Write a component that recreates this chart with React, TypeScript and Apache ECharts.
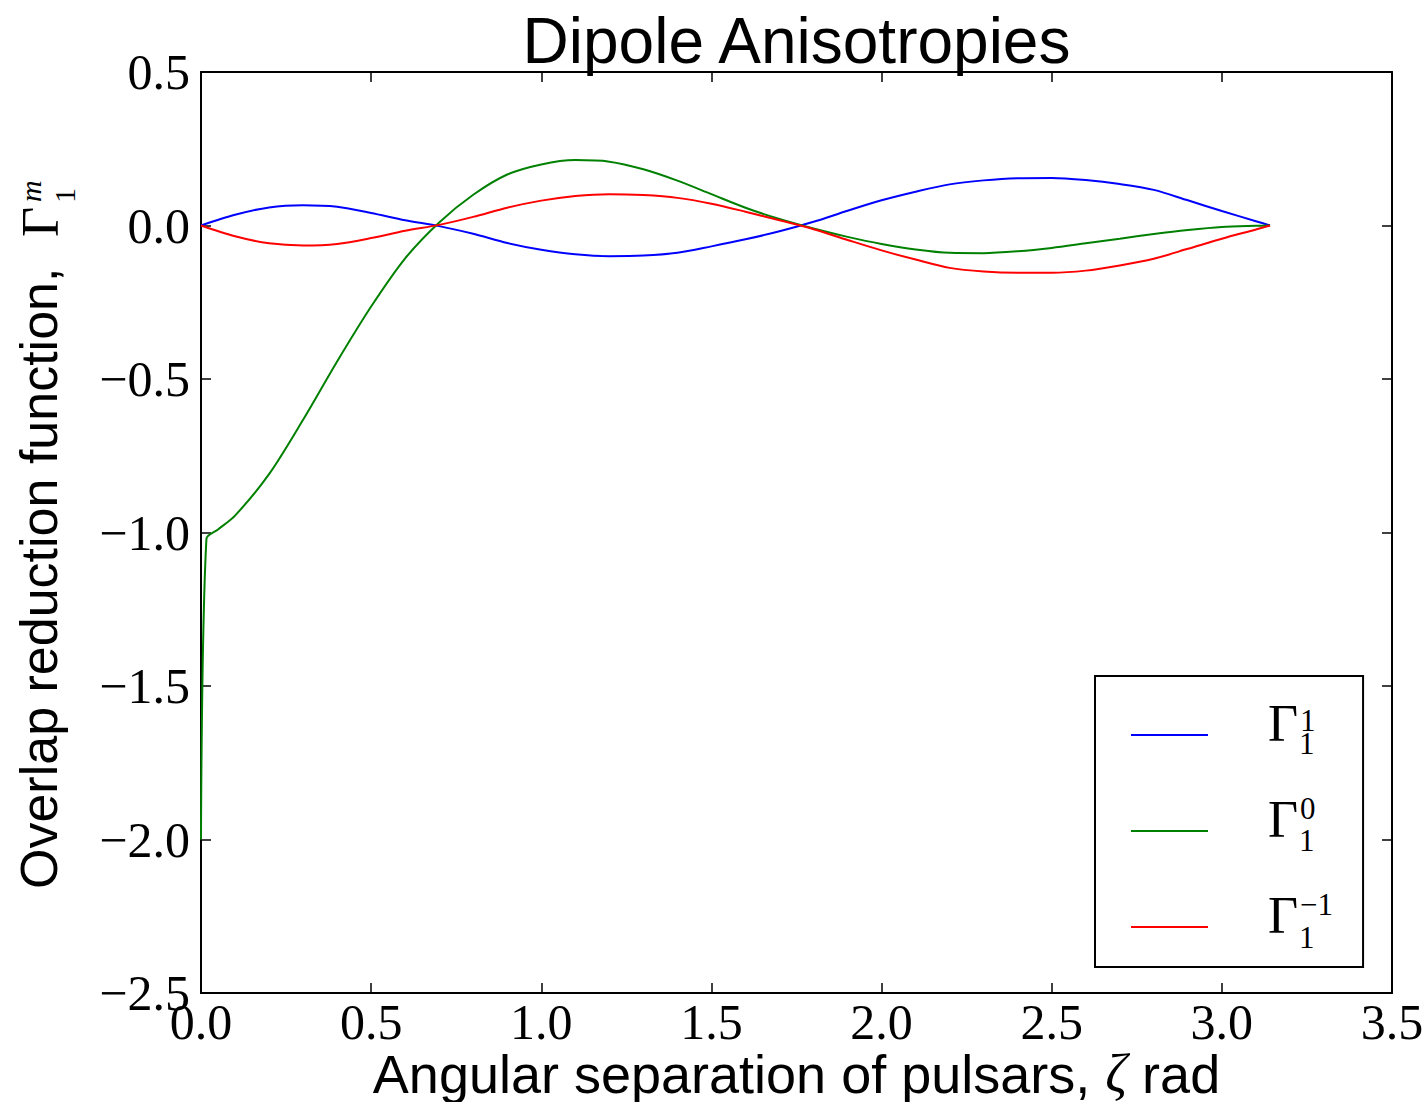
import React, { useEffect, useRef } from "react";
import * as echarts from "echarts";

// ---- data ----
const xGrid = [0, 0.1, 0.2, 0.3, 0.4, 0.5, 0.6, 0.7, 0.8, 0.9, 1.0, 1.1, 1.2, 1.3, 1.4, 1.5, 1.6, 1.7, 1.8, 1.9, 2.0, 2.1, 2.2, 2.3, 2.4, 2.5, 2.6, 2.7, 2.8, 2.9, 3.0, 3.1, 3.1416];
const gammaPlusOne = [0, 0.035, 0.059, 0.066, 0.061, 0.041, 0.017, -0.002, -0.027, -0.057, -0.079, -0.094, -0.1, -0.098, -0.089, -0.068, -0.045, -0.019, 0.012, 0.048, 0.082, 0.11, 0.134, 0.147, 0.154, 0.155, 0.148, 0.135, 0.116, 0.082, 0.047, 0.014, 0];
const gammaMinusOne = [0, -0.035, -0.058, -0.065, -0.06, -0.041, -0.017, 0.002, 0.028, 0.058, 0.081, 0.096, 0.102, 0.099, 0.09, 0.071, 0.045, 0.017, -0.012, -0.047, -0.081, -0.111, -0.138, -0.15, -0.154, -0.154, -0.147, -0.13, -0.108, -0.076, -0.043, -0.013, 0];
const xGreen = [0, 0.016, 0.05, 0.1, 0.2, 0.3, 0.4, 0.5, 0.6, 0.7, 0.8, 0.9, 1.0, 1.1, 1.2, 1.3, 1.4, 1.5, 1.6, 1.7, 1.8, 1.9, 2.0, 2.1, 2.2, 2.3, 2.4, 2.5, 2.6, 2.7, 2.8, 2.9, 3.0, 3.1, 3.1416];
const gammaZero = [-2.0, -1.02, -0.99, -0.945, -0.81, -0.633, -0.443, -0.264, -0.107, 0.01, 0.1, 0.166, 0.199, 0.213, 0.208, 0.183, 0.146, 0.102, 0.058, 0.021, -0.01, -0.037, -0.06, -0.078, -0.089, -0.09, -0.084, -0.073, -0.058, -0.043, -0.028, -0.015, -0.005, -0.001, 0];

const seriesNames = ["Γ_1^1", "Γ_1^0", "Γ_1^-1"];
const seriesColors = ["#0000ff", "#008000", "#ff0000"];
const legendSup = ["1", "0", "\u22121"];
const legendSub = ["1", "1", "1"];

const xTicks = { min: 0, max: 3.5, interval: 0.5 };
const yTicks = { min: -2.5, max: 0.5, interval: 0.5 };

const TITLE = "Dipole Anisotropies";
const Y_LABEL = "Overlap reduction function, ";
const X_LABEL_A = "Angular separation of pulsars, ";
const X_LABEL_Z = "ζ";
const X_LABEL_B = " rad";

const SANS = "'Liberation Sans', Arial, sans-serif";
const SERIF = "'Liberation Serif', 'Times New Roman', serif";

function fmtY(v: number) {
  return (v < 0 ? "\u2212" : "") + Math.abs(v).toFixed(1);
}

export default function App() {
  const ref = useRef<HTMLDivElement>(null);

  useEffect(() => {
    document.body.style.margin = "0";
    if (!ref.current) return;
    const chart = echarts.init(ref.current, null, { renderer: "svg" });

    const axisLine = { show: true, onZero: false, lineStyle: { color: "#000", width: 2 } };
    const axisTick = { show: true, inside: true, length: 10, lineStyle: { color: "#000", width: 1.5 } };

    const legendScripts: any[] = [];
    const supY = [720, 808, 904];
    const subY = [743, 840, 937];
    for (let i = 0; i < 3; i++) {
      legendScripts.push({
        type: "text",
        x: 1300,
        y: supY[i],
        z: 100,
        style: { text: legendSup[i], font: `31px ${SERIF}`, fill: "#000", textAlign: "left", textVerticalAlign: "middle" },
      });
      legendScripts.push({
        type: "text",
        x: 1299,
        y: subY[i],
        z: 100,
        style: { text: legendSub[i], font: `31px ${SERIF}`, fill: "#000", textAlign: "left", textVerticalAlign: "middle" },
      });
    }

    const option: any = {
      animation: false,
      backgroundColor: "#ffffff",
      title: {
        text: TITLE,
        left: 796.5,
        top: 9,
        padding: 0,
        textAlign: "center",
        textStyle: { fontFamily: SANS, fontSize: 64, fontWeight: "normal", color: "#000", lineHeight: 64 },
      },
      grid: { left: 201, right: 36, top: 72, bottom: 109, containLabel: false, outerBoundsMode: "none" },
      xAxis: [
        {
          type: "value",
          ...xTicks,
          position: "bottom",
          axisLine,
          axisTick,
          splitLine: { show: false },
          axisLabel: {
            show: true,
            margin: 7,
            formatter: (v: number) => v.toFixed(1),
            fontFamily: SERIF,
            fontSize: 50,
            lineHeight: 44,
            color: "#000",
          },
          name: `{a|${X_LABEL_A}}{z|${X_LABEL_Z}}{a|${X_LABEL_B}}`,
          nameLocation: "middle",
          nameGap: 58,
          nameMoveOverlap: false,
          nameTextStyle: {
            rich: {
              a: { fontFamily: SANS, fontSize: 54, lineHeight: 46, color: "#000" },
              z: { fontFamily: SERIF, fontStyle: "italic", fontSize: 54, lineHeight: 46, color: "#000" },
            },
          },
        },
        {
          type: "value",
          ...xTicks,
          position: "top",
          axisLine,
          axisTick,
          splitLine: { show: false },
          axisLabel: { show: false },
        },
      ],
      yAxis: [
        {
          type: "value",
          ...yTicks,
          position: "left",
          axisLine,
          axisTick,
          splitLine: { show: false },
          axisLabel: {
            show: true,
            margin: 11,
            formatter: fmtY,
            fontFamily: SERIF,
            fontSize: 50,
            color: "#000",
          },
        },
        {
          type: "value",
          ...yTicks,
          position: "right",
          axisLine,
          axisTick,
          splitLine: { show: false },
          axisLabel: { show: false },
        },
      ],
      legend: {
        show: true,
        orient: "vertical",
        left: 1095,
        top: 676,
        padding: [21, 65, 2, 36],
        itemWidth: 77,
        itemHeight: 2,
        itemGap: 20,
        icon: "rect",
        selectedMode: false,
        borderColor: "#000",
        borderWidth: 2,
        borderRadius: 0,
        backgroundColor: "#fff",
        data: seriesNames,
        formatter: () => "{g|Γ}",
        textStyle: {
          rich: {
            g: { fontFamily: SERIF, fontSize: 52, lineHeight: 52, padding: [0, 0, 24, 55], color: "#000" },
          },
        },
      },
      series: [
        {
          name: seriesNames[0],
          type: "line",
          data: xGrid.map((x, i) => [x, gammaPlusOne[i]]),
          showSymbol: false,
          symbol: "none",
          smooth: 0.3,
          lineStyle: { color: seriesColors[0], width: 2 },
          itemStyle: { color: seriesColors[0] },
        },
        {
          name: seriesNames[1],
          type: "line",
          data: xGreen.map((x, i) => [x, gammaZero[i]]),
          showSymbol: false,
          symbol: "none",
          smooth: 0.3,
          lineStyle: { color: seriesColors[1], width: 2 },
          itemStyle: { color: seriesColors[1] },
        },
        {
          name: seriesNames[2],
          type: "line",
          data: xGrid.map((x, i) => [x, gammaMinusOne[i]]),
          showSymbol: false,
          symbol: "none",
          smooth: 0.3,
          lineStyle: { color: seriesColors[2], width: 2 },
          itemStyle: { color: seriesColors[2] },
        },
      ],
      graphic: [
        {
          type: "group",
          x: 39,
          y: 889,
          rotation: Math.PI / 2,
          children: [
            {
              type: "text",
              x: 0,
              y: 0,
              style: { text: Y_LABEL, font: `52px ${SANS}`, fill: "#000", textAlign: "left", textVerticalAlign: "middle" },
            },
            {
              type: "text",
              x: 652,
              y: 1,
              style: { text: "Γ", font: `52px ${SERIF}`, fill: "#000", textAlign: "left", textVerticalAlign: "middle" },
            },
            {
              type: "text",
              x: 687,
              y: -9,
              style: { text: "m", font: `italic 30px ${SERIF}`, fill: "#000", textAlign: "left", textVerticalAlign: "middle" },
            },
            {
              type: "text",
              x: 686,
              y: 25,
              style: { text: "1", font: `30px ${SERIF}`, fill: "#000", textAlign: "left", textVerticalAlign: "middle" },
            },
          ],
        },
        ...legendScripts,
      ],
    };

    chart.setOption(option);
    return () => chart.dispose();
  }, []);

  return <div ref={ref} style={{ width: 1428, height: 1102 }} />;
}
